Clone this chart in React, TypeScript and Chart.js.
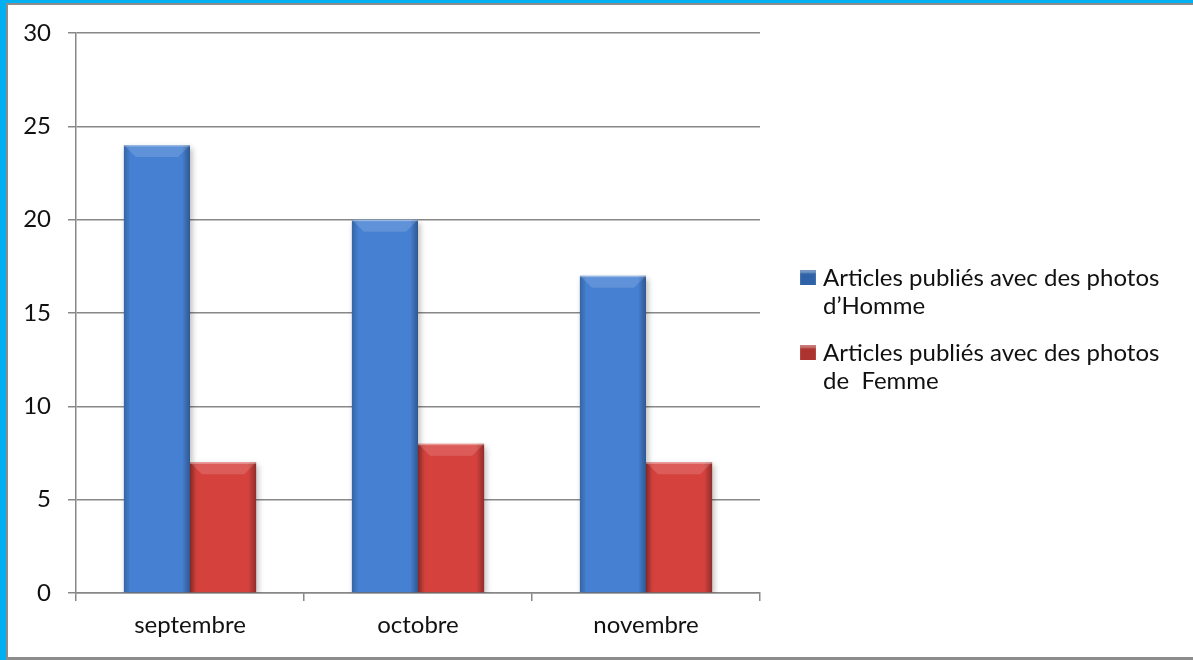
import React, { useEffect, useRef } from "react";
import { Chart, registerables } from "chart.js";

Chart.register(...registerables);

const categories = ["septembre", "octobre", "novembre"];
const hommeValues = [24, 20, 17];
const femmeValues = [7, 8, 7];
const legendLinesHomme = ["Articles publiés avec des photos", "d’Homme"];
const legendLinesFemme = ["Articles publiés avec des photos", "de  Femme"];
const yTickMax = 30;
const yTickStep = 5;

const FONT = "Lato, 'Open Sans', sans-serif";

const bevelPlugin = {
  id: "bevel",
  beforeDatasetsDraw(chart: any) {
    const ctx = chart.ctx;
    ctx.save();
    ctx.shadowColor = "rgba(0,0,0,0.28)";
    ctx.shadowBlur = 6;
    ctx.shadowOffsetX = 2;
    ctx.shadowOffsetY = 3;
  },
  afterDatasetsDraw(chart: any) {
    const ctx = chart.ctx;
    ctx.restore();
    ctx.save();
    chart.data.datasets.forEach((_: any, di: number) => {
      const meta = chart.getDatasetMeta(di);
      meta.data.forEach((el: any) => {
        const w = el.width;
        const left = el.x - w / 2;
        const right = el.x + w / 2;
        const top = el.y;
        const bottom = el.base;
        const g = ctx.createLinearGradient(left, 0, right, 0);
        g.addColorStop(0, "rgba(0,0,0,0.22)");
        g.addColorStop(0.1, "rgba(0,0,0,0.0)");
        g.addColorStop(0.88, "rgba(0,0,0,0.0)");
        g.addColorStop(1, "rgba(0,0,0,0.32)");
        ctx.fillStyle = g;
        ctx.fillRect(left, top, w, bottom - top);
        const b = 12;
        ctx.beginPath();
        ctx.moveTo(left, top);
        ctx.lineTo(right, top);
        ctx.lineTo(right - b, top + b);
        ctx.lineTo(left + b, top + b);
        ctx.closePath();
        ctx.fillStyle = "rgba(255,255,255,0.14)";
        ctx.fill();
        ctx.fillStyle = "rgba(255,255,255,0.35)";
        ctx.fillRect(left, top, w, 1.5);
      });
    });
    ctx.restore();
  },
};

export default function App() {
  const ref = useRef<HTMLCanvasElement | null>(null);

  useEffect(() => {
    if (!ref.current) return;
    const chart = new Chart(ref.current, {
      type: "bar",
      data: {
        labels: categories,
        datasets: [
          {
            label: legendLinesHomme.join(" "),
            data: hommeValues,
            backgroundColor: "#4580D2",
            borderWidth: 0,
            barPercentage: 1,
            categoryPercentage: 0.58,
          },
          {
            label: legendLinesFemme.join(" "),
            data: femmeValues,
            backgroundColor: "#D5423E",
            borderWidth: 0,
            barPercentage: 1,
            categoryPercentage: 0.58,
          },
        ],
      },
      options: {
        responsive: false,
        animation: false,
        layout: { padding: { left: 0, top: 33, right: 433, bottom: 0 } },
        plugins: { legend: { display: false }, tooltip: { enabled: false } },
        scales: {
          x: {
            offset: true,
            grid: {
              offset: true,
              drawOnChartArea: false,
              drawTicks: true,
              tickLength: 8,
              color: "#888888",
              lineWidth: 1.5,
            },
            border: { display: true, color: "#888888", width: 1.5 },
            ticks: { color: "#111", font: { family: FONT, size: 24 }, padding: 10 },
            afterFit(s: any) {
              s.height = 67;
            },
          },
          y: {
            min: 0,
            max: yTickMax,
            ticks: {
              stepSize: yTickStep,
              color: "#111",
              font: { family: FONT, size: 24 },
              padding: 17,
            },
            grid: { color: "#888888", lineWidth: 1.5, tickLength: 8 },
            border: { display: true, color: "#888888", width: 1.5 },
            afterFit(s: any) {
              s.width = 76;
            },
          },
        },
      },
      plugins: [bevelPlugin],
    });
    return () => chart.destroy();
  }, []);

  const legendItems = [
    { lines: legendLinesHomme, color: "#2F62A6", top: 263 },
    { lines: legendLinesFemme, color: "#AC3330", top: 338 },
  ];

  return (
    <div
      style={{
        position: "absolute",
        left: 0,
        top: 0,
        width: 1193,
        height: 660,
        background: "#fff",
        overflow: "hidden",
      }}
    >
      <canvas ref={ref} width={1193} height={660} style={{ position: "absolute", left: 0, top: 0 }} />
      <div style={{ position: "absolute", left: 0, top: 0, width: 1193, height: 3, background: "#00B0F0" }} />
      <div style={{ position: "absolute", left: 0, top: 0, width: 6, height: 660, background: "#00B0F0" }} />
      <div style={{ position: "absolute", left: 6, top: 3, width: 1187, height: 2, background: "#8c8c8c" }} />
      <div style={{ position: "absolute", left: 6, top: 3, width: 2, height: 657, background: "#8c8c8c" }} />
      <div style={{ position: "absolute", left: 6, top: 657, width: 1187, height: 3, background: "#8c8c8c" }} />
      {legendItems.map((it, i) => (
        <div key={i} style={{ position: "absolute", left: 800, top: it.top, fontFamily: FONT, fontSize: 24, color: "#111" }}>
          <div
            style={{
              position: "absolute",
              left: 0,
              top: 7,
              width: 16,
              height: 15,
              background: it.color,
              boxShadow: "inset 0 3px 2px rgba(255,255,255,0.35)",
            }}
          />
          <div style={{ position: "absolute", left: 23, top: 0, whiteSpace: "pre", lineHeight: "28px" }}>
            {it.lines.map((l, j) => (
              <div key={j}>{l}</div>
            ))}
          </div>
        </div>
      ))}
    </div>
  );
}
